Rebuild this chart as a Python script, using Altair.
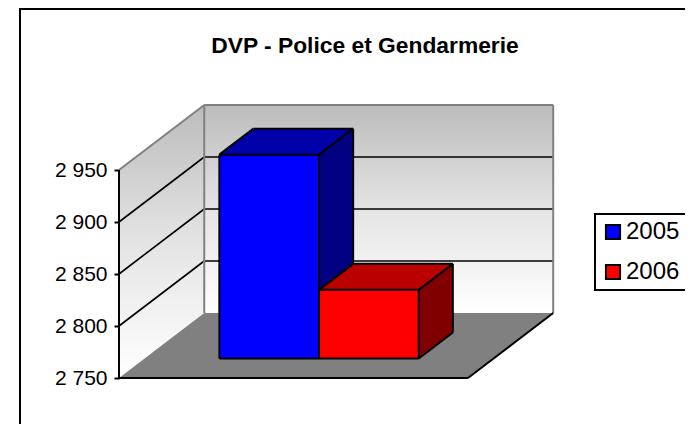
import altair as alt
import pandas as pd

TITLE = "DVP - Police et Gendarmerie"
YEARS = ["2005", "2006"]
VALUES = [2946, 2816]
TICKS = [2750, 2800, 2850, 2900, 2950]
FRONT_COLORS = ["#0000ff", "#ff0000"]
TOP_COLORS = ["#0000aa", "#bb0000"]
SIDE_COLORS = ["#000080", "#800000"]

BASE, TOP = TICKS[0], TICKS[-1]
W, H = 677, 416
PX_X, PX_Y = 99.7, 1.04      # pixels per bar-width, per value unit
X0, Y0 = 111, 370            # position of the axis origin inside the plot
DX, DY = 0.855, 62.5         # depth projection (bar widths, value units)
SPAN = 3.5                   # category span in bar widths
GAP = 0.75
D0, D1 = 0.3, 0.7            # bar depth extent

XDOM = [-X0 / PX_X, (W - X0) / PX_X]
YDOM = [BASE - (H - Y0) / PX_Y, BASE + Y0 / PX_Y]
xs = alt.Scale(domain=XDOM, nice=False, zero=False)
ys = alt.Scale(domain=YDOM, nice=False, zero=False)

y_axis = alt.Axis(
    values=TICKS, orient="left", offset=-X0, domain=False, grid=False,
    tickColor="#000000", tickWidth=2, tickSize=5, labelPadding=7,
    labelFont="Liberation Sans", labelFontSize=21, labelColor="#000000",
    labelExpr="slice(format(datum.value,'d'),0,1)+' '+slice(format(datum.value,'d'),1)",
)


def P(u, d, v):
    return u + d * DX, v + d * DY


def X(f="x"):
    return alt.X(f"{f}:Q", scale=xs, axis=None, title=None)


def Y(f="y"):
    return alt.Y(f"{f}:Q", scale=ys, axis=y_axis, title=None)


def segs(pairs, color, sw):
    rows = []
    for a, b in pairs:
        ax, ay = P(*a)
        bx, by = P(*b)
        rows.append({"x": ax, "y": ay, "x2": bx, "y2": by})
    return alt.Chart(pd.DataFrame(rows)).mark_rule(color=color, strokeWidth=sw).encode(
        x=X(), y=Y(), x2="x2:Q", y2="y2:Q"
    )


def vface(u0, d0, u1, d1, lo, hi, fill):
    """Face with vertical edges, slanted top and bottom."""
    rows = []
    for u, d in ((u0, d0), (u1, d1)):
        x, y = P(u, d, lo)
        _, y2 = P(u, d, hi)
        rows.append({"x": x, "y": y, "y2": y2})
    return alt.Chart(pd.DataFrame(rows)).mark_area(
        orient="vertical", color=fill, interpolate="linear"
    ).encode(x=X(), y=Y(), y2="y2:Q")


def hface(u0, u1, d0, d1, v, fill):
    """Face with horizontal edges, slanted sides."""
    rows = []
    for d in (d0, d1):
        x, y = P(u0, d, v)
        x2, _ = P(u1, d, v)
        rows.append({"x": x, "x2": x2, "y": y})
    return alt.Chart(pd.DataFrame(rows)).mark_area(
        orient="horizontal", color=fill, interpolate="linear"
    ).encode(y=Y(), x=X(), x2="x2:Q")


wall_grad = alt.Gradient(
    gradient="linear", x1=0, x2=0, y1=0, y2=1,
    stops=[
        alt.GradientStop(offset=0, color="#bcbcbc"),
        alt.GradientStop(offset=0.5, color="#e4e4e4"),
        alt.GradientStop(offset=1, color="#ffffff"),
    ],
)

bl = P(0, 1, BASE)
tr = P(SPAN, 1, TOP)
back = alt.Chart(pd.DataFrame([{"x": bl[0], "x2": tr[0], "y": bl[1], "y2": tr[1]}])).mark_rect(
    color=wall_grad
).encode(x=X(), x2="x2:Q", y=Y(), y2="y2:Q")

left = vface(0, 0, 0, 1, BASE, TOP, wall_grad)
floor = hface(0, SPAN, 0, 1, BASE, "#808080")

grid = segs(
    [((0, 0, t), (0, 1, t)) for t in TICKS[1:-1]]
    + [((0, 1, t), (SPAN, 1, t)) for t in TICKS[1:-1]],
    "#000000", 1.6,
)
wall_edges = segs(
    [
        ((0, 0, TOP), (0, 1, TOP)),
        ((0, 1, TOP), (SPAN, 1, TOP)),
        ((0, 1, BASE), (0, 1, TOP)),
        ((SPAN, 1, BASE), (SPAN, 1, TOP)),
    ],
    "#808080", 2,
)
floor_edges = segs(
    [((0, 0, BASE), (SPAN, 0, BASE)), ((SPAN, 0, BASE), (SPAN, 1, BASE))], "#000000", 2
)
axis_line = segs([((0, 0, BASE), (0, 0, TOP))], "#000000", 2)

bars = []
for i, (yr, val) in enumerate(zip(YEARS, VALUES)):
    u0, u1 = GAP + i, GAP + i + 1
    side = vface(u1, D0, u1, D1, BASE, val, SIDE_COLORS[i])
    top = hface(u0, u1, D0, D1, val, TOP_COLORS[i])
    fx0, fy0 = P(u0, D0, BASE)
    fx1, fy1 = P(u1, D0, val)
    front = alt.Chart(pd.DataFrame([{"year": yr, "x": fx0, "x2": fx1, "y": fy0, "y2": fy1}])).mark_rect().encode(
        x=X(), x2="x2:Q", y=Y(), y2="y2:Q",
        color=alt.Color(
            "year:N",
            scale=alt.Scale(domain=YEARS, range=FRONT_COLORS),
            legend=alt.Legend(
                title=None, orient="none", legendX=587, legendY=206,
                symbolType="square", symbolSize=200, symbolStrokeWidth=2,
                symbolStrokeColor="#000000", symbolOpacity=1,
                labelFont="Liberation Sans", labelFontSize=24, labelColor="#000000",
                strokeColor="#000000", padding=6, rowPadding=16, labelOffset=1,
                fillColor="#ffffff",
            ),
        ),
    )
    edges = segs(
        [
            ((u0, D0, BASE), (u1, D0, BASE)),
            ((u0, D0, val), (u1, D0, val)),
            ((u0, D0, BASE), (u0, D0, val)),
            ((u1, D0, BASE), (u1, D0, val)),
            ((u1, D1, BASE), (u1, D1, val)),
            ((u1, D0, BASE), (u1, D1, BASE)),
            ((u1, D0, val), (u1, D1, val)),
            ((u0, D0, val), (u0, D1, val)),
            ((u0, D1, val), (u1, D1, val)),
        ],
        "#000000", 2,
    )
    bars += [side, top, front, edges]

frame_top = alt.Chart(pd.DataFrame({"a": [0]})).mark_rule(color="#000000", strokeWidth=2).encode(
    x=alt.value(12), x2=alt.value(W), y=alt.value(1)
)
frame_left = alt.Chart(pd.DataFrame({"a": [0]})).mark_rule(color="#000000", strokeWidth=2).encode(
    x=alt.value(12), y=alt.value(0), y2=alt.value(H)
)

chart = alt.layer(
    frame_top, frame_left, back, left, floor, grid, wall_edges, floor_edges,
    axis_line, *bars,
).properties(
    width=W, height=H, padding=0,
    autosize=alt.AutoSizeParams(type="none"),
    title=alt.TitleParams(
        TITLE, anchor="middle", dx=18.5, dy=55, font="Liberation Sans",
        fontSize=22.8, fontWeight="bold", color="#000000",
    ),
).configure_view(stroke=None).configure_legend(strokeWidth=2)

chart.save("out.html", embed_options={"renderer": "svg", "actions": False})
